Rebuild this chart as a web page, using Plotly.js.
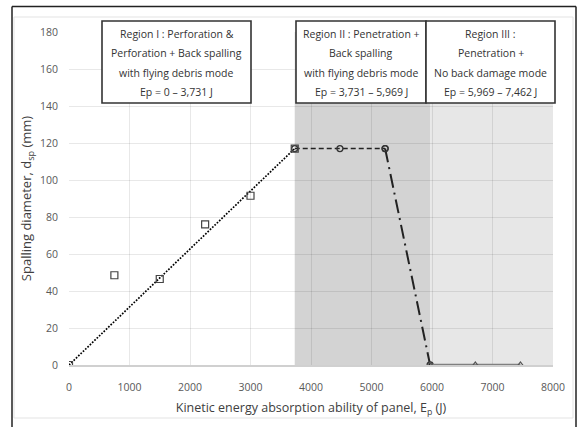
<!DOCTYPE html>
<html>
<head>
<meta charset="utf-8">
<script src="https://cdn.plot.ly/plotly-3.0.1.min.js"></script>
<style>html,body{margin:0;padding:0;background:#fff;}#chart{width:579px;height:427px;}</style>
</head>
<body>
<div id="chart"></div>
<script>
// ---- Data ----
const region1X = [0, 750, 1500, 2250, 3000, 3731];
const region1Y = [0, 48.5, 46.5, 76, 91.5, 117];
const trendX = [0, 3731];
const trendY = [0, 117];
const region2X = [3731, 4478, 5225];
const region2Y = [117, 117, 117];
const dropX = [5225, 5969];
const dropY = [117, 0];
const region3X = [5969, 6716, 7462];
const region3Y = [0, 0, 0];
const regionBounds = [3731, 5969, 8000];
const xTicks = [0, 1000, 2000, 3000, 4000, 5000, 6000, 7000, 8000];
const yTicks = [0, 20, 40, 60, 80, 100, 120, 140, 160, 180];
const boxTexts = [
  ["Region I : Perforation &", "Perforation + Back spalling", "with flying debris mode", "Ep = 0 – 3,731 J"],
  ["Region II : Penetration +", "Back spalling", "with flying debris mode", "Ep = 3,731 – 5,969 J"],
  ["Region III :", "Penetration +", "No back damage mode", "Ep = 5,969 – 7,462 J"]
];

// ---- Layout geometry (pixels) ----
const W = 579, H = 427;
const L = 69, R = 26, T = 32, B = 62;
const pw = W - L - R, ph = H - T - B;
const px = x => (x - L) / pw;          // pixel x -> paper
const py = y => (H - B - y) / ph;      // pixel y -> paper

const FONT = '"Open Sans", "Noto Sans", sans-serif';

const traces = [
  {x: trendX, y: trendY, mode: 'lines', line: {color: '#000', width: 1.7, dash: '1.7px,1.5px'}, hoverinfo: 'skip'},
  {x: region2X, y: region2Y, mode: 'lines+markers', line: {color: '#222', width: 1.6, dash: '5px,3px'},
   marker: {symbol: 'circle-open', size: 6, color: '#333', line: {width: 1.3}}},
  {x: dropX, y: dropY, mode: 'lines+markers', line: {color: '#222', width: 2, dash: '14px,5px,2px,5px'},
   marker: {symbol: 'circle-open', size: 6, color: '#333', line: {width: 1.3}}},
  {x: region3X, y: region3Y, mode: 'lines+markers', line: {color: '#808080', width: 2.5},
   marker: {symbol: 'triangle-up-open', size: 6, color: '#555', line: {width: 1.2}}},
  {x: region1X, y: region1Y, mode: 'markers',
   marker: {symbol: 'square-open', size: 7, color: '#444', line: {width: 1.2}}}
];

const shapes = [
  {type: 'rect', xref: 'x', yref: 'y', x0: regionBounds[0], x1: regionBounds[1], y0: 0, y1: 180,
   fillcolor: '#d3d3d3', line: {width: 0}, layer: 'below'},
  {type: 'rect', xref: 'x', yref: 'y', x0: regionBounds[1], x1: regionBounds[2], y0: 0, y1: 180,
   fillcolor: '#e7e7e7', line: {width: 0}, layer: 'below'},
  // chart-area light border
  {type: 'rect', xref: 'paper', yref: 'paper', x0: px(14), x1: px(573), y0: py(418), y1: py(17),
   line: {color: '#e3e3e3', width: 1}, layer: 'above'},
  // outer black frame
  {type: 'line', xref: 'paper', yref: 'paper', x0: px(12), x1: px(12), y0: py(440), y1: py(6.5), line: {color: '#222', width: 1.5}},
  {type: 'line', xref: 'paper', yref: 'paper', x0: px(12), x1: px(576), y0: py(6.5), y1: py(6.5), line: {color: '#222', width: 1.5}},
  {type: 'line', xref: 'paper', yref: 'paper', x0: px(576), x1: px(576), y0: py(6.5), y1: py(440), line: {color: '#222', width: 1.5}}
];

const boxPix = [[102, 251], [296, 426], [426, 555]];
const boxTop = 21, boxBot = 103;
const lineY = [34, 53, 72.5, 92];
const annotations = [];
boxPix.forEach((b, i) => {
  shapes.push({type: 'rect', xref: 'paper', yref: 'paper', x0: px(b[0]), x1: px(b[1]), y0: py(boxBot), y1: py(boxTop),
    fillcolor: '#fff', line: {color: '#333', width: 1.6}, layer: 'above'});
  boxTexts[i].forEach((t, j) => {
    annotations.push({xref: 'paper', yref: 'paper', x: px((b[0] + b[1]) / 2), y: py(lineY[j]),
      text: t, showarrow: false, xanchor: 'center', yanchor: 'middle',
      font: {family: FONT, size: 10.5, color: '#333'}});
  });
});

const layout = {
  width: W, height: H,
  margin: {l: L, r: R, t: T, b: B},
  paper_bgcolor: '#fff', plot_bgcolor: '#fff',
  showlegend: false,
  font: {family: FONT, color: '#595959'},
  xaxis: {
    range: [0, 8000], tickvals: xTicks, ticktext: xTicks.map(String),
    showgrid: true, gridcolor: 'rgba(0,0,0,0.09)', gridwidth: 1,
    zeroline: false, showline: true, linecolor: '#d0d0d0', linewidth: 1.5,
    ticks: '', ticklabelstandoff: 12,
    tickfont: {family: FONT, size: 10.5, color: '#595959'},
    title: {text: 'Kinetic energy absorption ability of panel, E<sub>p</sub> (J)', standoff: 10,
            font: {family: FONT, size: 12.5, color: '#404040'}},
    fixedrange: true
  },
  yaxis: {
    range: [0, 180], tickvals: yTicks, ticktext: yTicks.map(String),
    showgrid: true, gridcolor: 'rgba(0,0,0,0.09)', gridwidth: 1,
    zeroline: false, showline: false,
    ticks: '', ticklabelstandoff: 10,
    tickfont: {family: FONT, size: 10.5, color: '#595959'},
    title: {text: 'Spalling diameter, d<sub>sp</sub> (mm)', standoff: 5,
            font: {family: FONT, size: 13, color: '#404040'}},
    fixedrange: true
  },
  shapes: shapes,
  annotations: annotations
};

Plotly.newPlot('chart', traces, layout, {displayModeBar: false, staticPlot: true});
</script>
</body>
</html>
